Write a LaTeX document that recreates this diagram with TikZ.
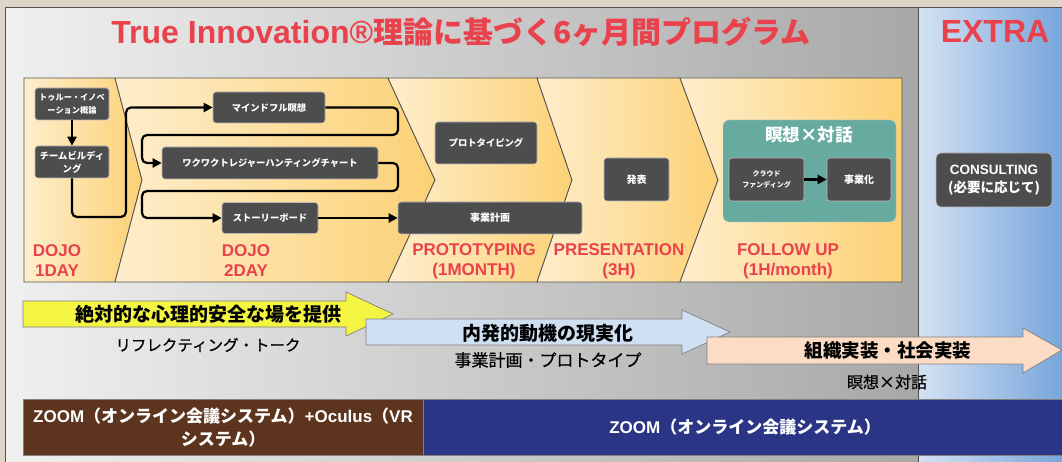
\documentclass[tikz,border=0pt]{standalone}
\usepackage{fontspec}
\setmainfont{Noto Sans CJK JP}
\newfontfamily\lat{Liberation Sans}
\newfontfamily\jpmid{Noto Sans CJK JP}[FakeBold=0.5]
\usetikzlibrary{arrows.meta,positioning}
\definecolor{bgbeige}{RGB}{221,214,199}
\definecolor{panelline}{RGB}{80,80,80}
\definecolor{panellight}{RGB}{240,240,240}
\definecolor{paneldark}{RGB}{168,168,168}
\definecolor{extralight}{RGB}{212,226,243}
\definecolor{extradark}{RGB}{112,160,216}
\definecolor{titlered}{RGB}{234,66,76}
\definecolor{boxgray}{RGB}{77,77,77}
\definecolor{groupteal}{RGB}{103,170,160}
\definecolor{chevlight}{RGB}{254,238,204}
\definecolor{chevdark}{RGB}{252,209,117}
\definecolor{arrowyellow}{RGB}{244,244,66}
\definecolor{arrowblue}{RGB}{207,224,243}
\definecolor{arrowpeach}{RGB}{252,220,196}
\definecolor{zoombrown}{RGB}{93,52,30}
\definecolor{zoomnavy}{RGB}{43,53,133}
\newcommand{\fsz}[2]{\fontsize{#1}{#2}\selectfont}

\begin{document}
\begin{tikzpicture}[x=1pt,y=-1pt,
	every node/.style={inner sep=0pt, align=center},
	darkbox/.style={fill=boxgray, draw=gray!55, line width=0.6pt, rounded corners=3pt, text=white, font=\bfseries\fsz{9.3}{13}},
	phase/.style={text=titlered, font=\lat\bfseries\fsz{17}{20}},
	chev/.style={draw=panelline, line width=0.8pt, left color=chevlight, right color=chevdark},
	flow/.style={draw=black, line width=2.2pt, rounded corners=5pt, -{Triangle[length=9pt,width=9pt]}},
	bigarrow/.style={draw=gray, line width=0.7pt},
	bar/.style={draw=gray, line width=0.6pt},
	]
	\useasboundingbox (0,0) rectangle (1062,462);
	\fill[bgbeige] (0,0) rectangle (1062,462);
	\shade[left color=panellight, right color=paneldark, draw=panelline, line width=1pt] (5,8) rectangle (918,470);
	\shade[left color=extralight, right color=extradark, draw=panelline, line width=1pt] (918,8) rectangle (1075,470);

	\node[text=titlered, font=\bfseries\fsz{30}{34}, anchor=base] (title) at (461,44) {{\lat\bfseries\fsz{32}{34}True Innovation®}理論に基づく6ヶ月間プログラム};
	\node[text=titlered, font=\lat\bfseries\fsz{32}{34}, anchor=base] (extra) at (995,43) {EXTRA};

	\foreach \la/\lt/\ra/\rt in {24/24/115/142, 115/142/388/435, 388/435/537/572, 537/572/680/718, 680/718/902/902}
		\shade[chev] (\la,78) -- (\ra,78) -- (\rt,180) -- (\ra,282) -- (\la,282) -- (\lt,180) -- cycle;

	\node[phase] (dojo1) at (57,261) {DOJO\\1DAY};
	\node[phase] (dojo2) at (246,261) {DOJO\\2DAY};
	\node[phase] (proto-lbl) at (474,261) {PROTOTYPING\\(1MONTH)};
	\node[phase] (pres-lbl) at (619,261) {PRESENTATION\\(3H)};
	\node[phase] (follow-lbl) at (788,261) {FOLLOW UP\\(1H/month)};

	\node[darkbox, minimum width=74pt, minimum height=32pt, font=\bfseries\fsz{8.2}{13}] (intro) at (72,104) {トゥルー・イノベ\\ーション概論};
	\node[darkbox, minimum width=74pt, minimum height=32pt] (team) at (72,162) {チームビルディ\\ング};
	\node[darkbox, minimum width=112pt, minimum height=31pt] (mind) at (269,107.5) {マインドフル瞑想};
	\node[darkbox, minimum width=216pt, minimum height=32pt] (waku) at (270,163) {ワクワクトレジャーハンティングチャート};
	\node[darkbox, minimum width=96pt, minimum height=31pt] (story) at (270,218) {ストーリーボード};
	\node[darkbox, minimum width=184pt, minimum height=32pt, font=\bfseries\fsz{10}{13}] (plan) at (490,218) {事業計画};
	\node[darkbox, minimum width=102pt, minimum height=42pt] (proto) at (486,143) {プロトタイピング};
	\node[darkbox, minimum width=65pt, minimum height=43pt, font=\bfseries\fsz{10}{13}] (pres) at (636.5,179.5) {発表};
	\node[fill=groupteal, draw=gray!40, rounded corners=6pt, minimum width=173pt, minimum height=102pt] (group) at (809.5,171) {};
	\node[text=white, font=\bfseries\fsz{17.5}{20}] (group-title) at (809,135) {瞑想×対話};
	\node[darkbox, minimum width=75pt, minimum height=43pt, font=\bfseries\fsz{7}{11}] (crowd) at (766.5,179.5) {クラウド\\ファンディング};
	\node[darkbox, minimum width=64pt, minimum height=43pt, font=\bfseries\fsz{10}{13}] (biz) at (859,179.5) {事業化};
	\node[darkbox, minimum width=116pt, minimum height=54pt, rounded corners=5pt, font=\bfseries\fsz{13.5}{17.5}] (consult) at (994,180) {{\lat\bfseries CONSULTING}\\(必要に応じて)};

	\draw[flow] (intro) -- (team);
	\draw[flow] (team.south) |- (126,217) |- (mind);
	\draw[flow] (mind) -| (398,135) -| (142,163) -- (waku);
	\draw[flow] (waku) -| (398,191) -| (142,218) -- (story);
	\draw[flow] (story) -- (plan);
	\draw[flow] (crowd) -- (biz);

	\filldraw[bigarrow, fill=arrowyellow] (23,301) -- (346,301) -- (346,292) -- (393,314) -- (346,336) -- (346,327) -- (23,327) -- cycle;
	\filldraw[bigarrow, fill=arrowblue] (366,319) -- (682,319) -- (682,310) -- (730,332) -- (682,354) -- (682,345) -- (366,345) -- cycle;
	\filldraw[bigarrow, fill=arrowpeach] (707,337) -- (1023,337) -- (1023,328) -- (1062,350) -- (1023,373) -- (1023,364) -- (707,364) -- cycle;

	\node[font=\bfseries\fsz{19}{22}] (safe) at (208,314) {絶対的な心理的安全な場を提供};
	\node[font=\jpmid\fsz{15.5}{18}] (reflect) at (208,345) {リフレクティング・トーク};
	\node[font=\bfseries\fsz{19}{22}] (motive) at (548,333) {内発的動機の現実化};
	\node[font=\jpmid\fsz{17}{20}] (plan-proto) at (548,360) {事業計画・プロトタイプ};
	\node[font=\bfseries\fsz{18.5}{21}] (impl) at (888,351) {組織実装・社会実装};
	\node[font=\jpmid\fsz{16}{19}] (dialog) at (887,382) {瞑想×対話};

	\filldraw[bar, fill=zoombrown] (23,399) rectangle (423,455);
	\filldraw[bar, fill=zoomnavy] (423,399) rectangle (1070,455);
	\node[text=white, font=\bfseries\fsz{17}{23}] (zoom-vr) at (223,427.5) {{\lat\bfseries ZOOM}（オンライン会議システム）{\lat\bfseries +Oculus}（{\lat\bfseries VR}\\システム）};
	\node[text=white, font=\bfseries\fsz{17}{23}] (zoom-only) at (745,427) {{\lat\bfseries ZOOM}（オンライン会議システム）};
\end{tikzpicture}
\end{document}
